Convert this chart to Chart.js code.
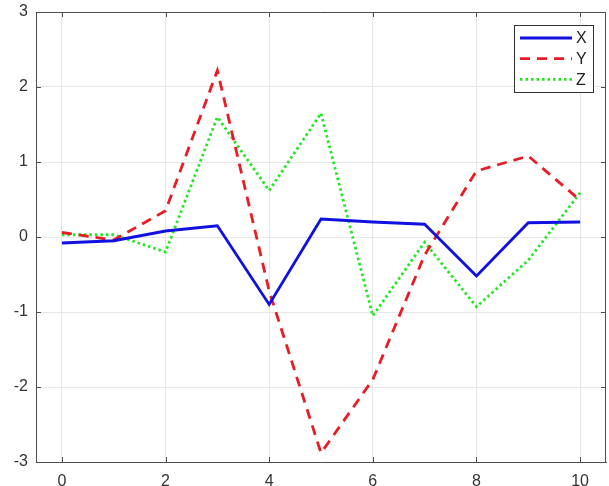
<!DOCTYPE html>
<html>
<head>
<meta charset="utf-8">
<script src="https://cdn.jsdelivr.net/npm/chart.js@4.4.1/dist/chart.umd.min.js"></script>
<style>
  html, body { margin: 0; padding: 0; background: #fff; }
  #wrap { width: 609px; height: 486px; }
</style>
</head>
<body>
<div id="wrap"><canvas id="line-chart" width="609" height="486"></canvas></div>
<script>
// values
const xValues = [0, 1, 2, 3, 4, 5, 6, 7, 8, 9, 10];
const seriesX = [-0.08, -0.05, 0.08, 0.15, -0.9, 0.24, 0.2, 0.17, -0.52, 0.19, 0.2];
const seriesY = [0.06, -0.04, 0.35, 2.22, -0.72, -2.88, -1.9, -0.24, 0.88, 1.08, 0.49];
const seriesZ = [0.03, 0.03, -0.2, 1.6, 0.62, 1.65, -1.05, -0.07, -0.93, -0.31, 0.59];
const seriesNames = ["X", "Y", "Z"];
const xTicks = [0, 2, 4, 6, 8, 10];
const yTicks = [-3, -2, -1, 0, 1, 2, 3];

const toPoints = (arr) => arr.map((v, i) => ({ x: xValues[i], y: v }));

const axisColor = "#4d4d4d";
const gridColor = "#e6e6e6";
const fontFamily = "'Liberation Sans', Arial, sans-serif";

// box round the axes + inward tick marks, like matlab
const boxPlugin = {
  id: "box",
  afterDraw(chart) {
    const { ctx, chartArea: a, scales } = chart;
    ctx.save();
    ctx.strokeStyle = axisColor;
    ctx.lineWidth = 1;
    ctx.beginPath();
    ctx.moveTo(a.left, a.top + 0.5);
    ctx.lineTo(a.right - 0.5, a.top + 0.5);
    ctx.lineTo(a.right - 0.5, a.bottom);
    const len = 5;
    xTicks.forEach((v) => {
      const px = Math.round(scales.x.getPixelForValue(v)) + 0.5;
      ctx.moveTo(px, a.bottom);
      ctx.lineTo(px, a.bottom - len);
      ctx.moveTo(px, a.top);
      ctx.lineTo(px, a.top + len);
    });
    yTicks.forEach((v) => {
      const py = Math.round(scales.y.getPixelForValue(v)) + 0.5;
      ctx.moveTo(a.left, py);
      ctx.lineTo(a.left + len, py);
      ctx.moveTo(a.right, py);
      ctx.lineTo(a.right - len, py);
    });
    ctx.stroke();
    ctx.restore();
  },
};

// legend box in the upper right corner
const legendPlugin = {
  id: "boxLegend",
  afterDraw(chart) {
    const { ctx, chartArea: a } = chart;
    const w = 79, h = 67;
    const x0 = a.right - 92, y0 = a.top + 13;
    ctx.save();
    ctx.fillStyle = "#fff";
    ctx.fillRect(x0, y0, w, h);
    ctx.strokeStyle = "#333";
    ctx.lineWidth = 1;
    ctx.strokeRect(x0 + 0.5, y0 + 0.5, w, h);
    ctx.font = "16px " + fontFamily;
    ctx.textBaseline = "middle";
    chart.data.datasets.forEach((ds, i) => {
      const yy = y0 + 13 + i * 20.7;
      ctx.strokeStyle = ds.borderColor;
      ctx.lineWidth = ds.borderWidth;
      ctx.setLineDash(ds.borderDash || []);
      ctx.beginPath();
      ctx.moveTo(x0 + 6, yy);
      ctx.lineTo(x0 + 58, yy);
      ctx.stroke();
      ctx.setLineDash([]);
      ctx.fillStyle = "#222";
      ctx.fillText(ds.label, x0 + 62, yy + 1);
    });
    ctx.restore();
  },
};

const ctx = document.getElementById("line-chart");

new Chart(ctx, {
  type: "line",
  data: {
    datasets: [
      {
        label: seriesNames[0],
        data: toPoints(seriesX),
        borderColor: "#1010e0",
        borderWidth: 2.8,
        pointRadius: 0,
        tension: 0,
      },
      {
        label: seriesNames[1],
        data: toPoints(seriesY),
        borderColor: "#e81c24",
        borderWidth: 2.8,
        borderDash: [10, 7],
        pointRadius: 0,
        tension: 0,
      },
      {
        label: seriesNames[2],
        data: toPoints(seriesZ),
        borderColor: "#22e622",
        borderWidth: 2.8,
        borderDash: [2.5, 3],
        pointRadius: 0,
        tension: 0,
      },
    ],
  },
  options: {
    responsive: false,
    animation: false,
    layout: { padding: { top: 12, right: 3, left: 0, bottom: 0 } },
    scales: {
      x: {
        type: "linear",
        min: -0.5,
        max: 10.5,
        afterBuildTicks: (scale) => {
          scale.ticks = xTicks.map((v) => ({ value: v }));
        },
        afterFit: (scale) => {
          scale.height = 24;
          scale.paddingLeft = 0;
          scale.paddingRight = 0;
        },
        grid: { color: gridColor, drawTicks: false },
        border: { display: true, color: axisColor, width: 1 },
        ticks: {
          color: "#333",
          padding: 10,
          font: { family: fontFamily, size: 16 },
          callback: (v) => String(v),
        },
      },
      y: {
        type: "linear",
        min: -3,
        max: 3,
        afterBuildTicks: (scale) => {
          scale.ticks = yTicks.map((v) => ({ value: v }));
        },
        afterFit: (scale) => {
          scale.width = 36;
          scale.paddingTop = 0;
          scale.paddingBottom = 0;
        },
        grid: { color: gridColor, drawTicks: false },
        border: { display: true, color: axisColor, width: 1 },
        ticks: {
          color: "#333",
          padding: 8,
          font: { family: fontFamily, size: 16 },
          callback: (v) => String(v),
        },
      },
    },
    plugins: {
      legend: { display: false },
      tooltip: { enabled: false },
    },
  },
  plugins: [boxPlugin, legendPlugin],
});
</script>
</body>
</html>
